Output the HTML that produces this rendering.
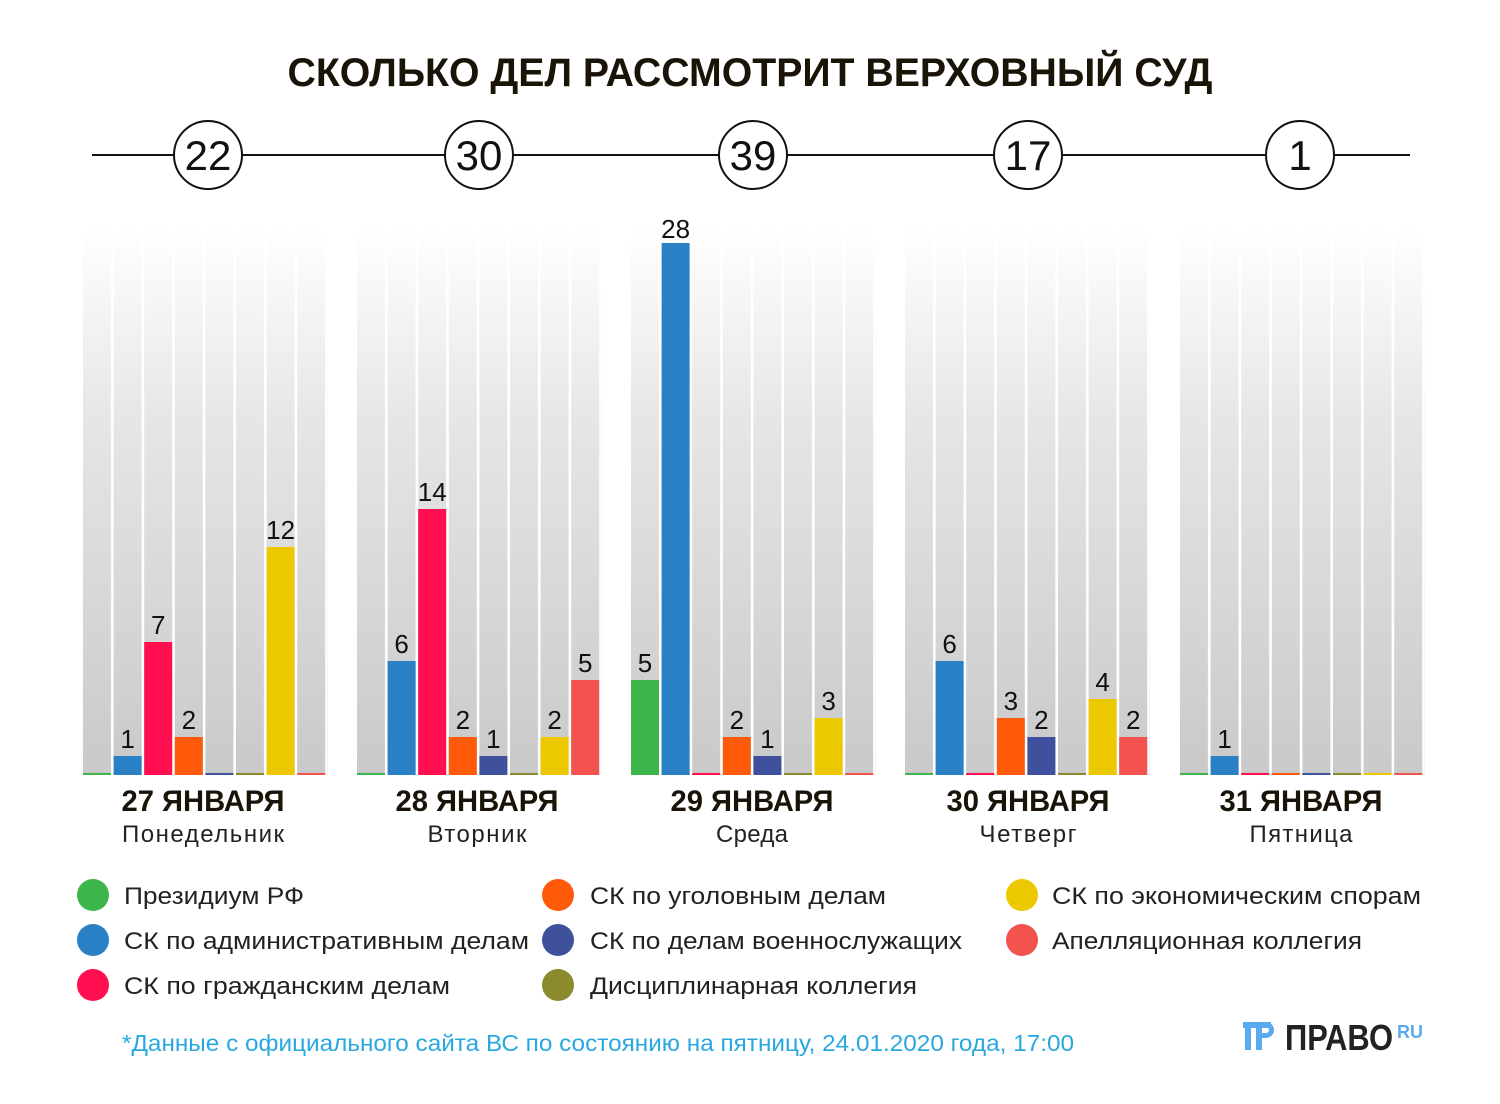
<!DOCTYPE html>
<html><head><meta charset="utf-8"><style>
html,body{margin:0;padding:0;background:#fff;}
svg{display:block;font-family:"Liberation Sans",sans-serif;}
</style></head><body>
<svg width="1500" height="1104" viewBox="0 0 1500 1104" xmlns="http://www.w3.org/2000/svg">
<defs>
<linearGradient id="bg" x1="0" y1="0" x2="0" y2="1">
<stop offset="0" stop-color="#ffffff"/><stop offset="0.35" stop-color="#e6e6e6"/><stop offset="1" stop-color="#c9c9c9"/>
</linearGradient>
<pattern id="sep" x="0" y="0" width="30.6" height="10" patternUnits="userSpaceOnUse">
<rect x="28" y="0" width="2.6" height="10" fill="#fff"/>
</pattern>
</defs>
<text x="750" y="86" text-anchor="middle" font-size="40" font-weight="bold" fill="#1a1408" textLength="925" lengthAdjust="spacingAndGlyphs">СКОЛЬКО ДЕЛ РАССМОТРИТ ВЕРХОВНЫЙ СУД</text>
<line x1="92" y1="155" x2="1410" y2="155" stroke="#111" stroke-width="2"/>
<g fill="#fff" stroke="#111" stroke-width="2">
<circle cx="208" cy="155" r="34"/><circle cx="479" cy="155" r="34"/><circle cx="753" cy="155" r="34"/><circle cx="1028" cy="155" r="34"/><circle cx="1300" cy="155" r="34"/>
</g>
<g font-size="42" text-anchor="middle" fill="#111">
<text x="208" y="170">22</text><text x="479" y="170">30</text><text x="753" y="170">39</text><text x="1028" y="170">17</text><text x="1300" y="170">1</text>
</g>

<g>
<rect x="83" y="228" width="245" height="547" fill="url(#bg)"/>
<rect x="357" y="228" width="245" height="547" fill="url(#bg)"/>
<rect x="631" y="228" width="245" height="547" fill="url(#bg)"/>
<rect x="905" y="228" width="245" height="547" fill="url(#bg)"/>
<rect x="1180" y="228" width="245" height="547" fill="url(#bg)"/>
</g>
<g>
<g transform="translate(83,0)"><rect x="0" y="228" width="245" height="547" fill="url(#sep)"/></g>
<g transform="translate(357,0)"><rect x="0" y="228" width="245" height="547" fill="url(#sep)"/></g>
<g transform="translate(631,0)"><rect x="0" y="228" width="245" height="547" fill="url(#sep)"/></g>
<g transform="translate(905,0)"><rect x="0" y="228" width="245" height="547" fill="url(#sep)"/></g>
<g transform="translate(1180,0)"><rect x="0" y="228" width="245" height="547" fill="url(#sep)"/></g>
</g>

<g font-size="26" text-anchor="middle" fill="#111">
<g transform="translate(83,0)">
<rect x="0" y="773" width="28" height="2" fill="#3cb54a"/>
<rect x="30.6" y="756" width="28" height="19" fill="#2a80c4"/><text x="44.6" y="748">1</text>
<rect x="61.2" y="642" width="28" height="133" fill="#ff0f4f"/><text x="75.2" y="634">7</text>
<rect x="91.8" y="737" width="28" height="38" fill="#ff5a0a"/><text x="105.8" y="729">2</text>
<rect x="122.4" y="773" width="28" height="2" fill="#3f519c"/>
<rect x="153" y="773" width="28" height="2" fill="#8b8a2c"/>
<rect x="183.6" y="547" width="28" height="228" fill="#ecc800"/><text x="197.6" y="539">12</text>
<rect x="214.2" y="773" width="28" height="2" fill="#f2534f"/>
</g>
<g transform="translate(357,0)">
<rect x="0" y="773" width="28" height="2" fill="#3cb54a"/>
<rect x="30.6" y="661" width="28" height="114" fill="#2a80c4"/><text x="44.6" y="653">6</text>
<rect x="61.2" y="509" width="28" height="266" fill="#ff0f4f"/><text x="75.2" y="501">14</text>
<rect x="91.8" y="737" width="28" height="38" fill="#ff5a0a"/><text x="105.8" y="729">2</text>
<rect x="122.4" y="756" width="28" height="19" fill="#3f519c"/><text x="136.4" y="748">1</text>
<rect x="153" y="773" width="28" height="2" fill="#8b8a2c"/>
<rect x="183.6" y="737" width="28" height="38" fill="#ecc800"/><text x="197.6" y="729">2</text>
<rect x="214.2" y="680" width="28" height="95" fill="#f2534f"/><text x="228.2" y="672">5</text>
</g>
<g transform="translate(631,0)">
<rect x="0" y="680" width="28" height="95" fill="#3cb54a"/><text x="14" y="672">5</text>
<rect x="30.6" y="243" width="28" height="532" fill="#2a80c4"/><text x="44.6" y="238">28</text>
<rect x="61.2" y="773" width="28" height="2" fill="#ff0f4f"/>
<rect x="91.8" y="737" width="28" height="38" fill="#ff5a0a"/><text x="105.8" y="729">2</text>
<rect x="122.4" y="756" width="28" height="19" fill="#3f519c"/><text x="136.4" y="748">1</text>
<rect x="153" y="773" width="28" height="2" fill="#8b8a2c"/>
<rect x="183.6" y="718" width="28" height="57" fill="#ecc800"/><text x="197.6" y="710">3</text>
<rect x="214.2" y="773" width="28" height="2" fill="#f2534f"/>
</g>
<g transform="translate(905,0)">
<rect x="0" y="773" width="28" height="2" fill="#3cb54a"/>
<rect x="30.6" y="661" width="28" height="114" fill="#2a80c4"/><text x="44.6" y="653">6</text>
<rect x="61.2" y="773" width="28" height="2" fill="#ff0f4f"/>
<rect x="91.8" y="718" width="28" height="57" fill="#ff5a0a"/><text x="105.8" y="710">3</text>
<rect x="122.4" y="737" width="28" height="38" fill="#3f519c"/><text x="136.4" y="729">2</text>
<rect x="153" y="773" width="28" height="2" fill="#8b8a2c"/>
<rect x="183.6" y="699" width="28" height="76" fill="#ecc800"/><text x="197.6" y="691">4</text>
<rect x="214.2" y="737" width="28" height="38" fill="#f2534f"/><text x="228.2" y="729">2</text>
</g>
<g transform="translate(1180,0)">
<rect x="0" y="773" width="28" height="2" fill="#3cb54a"/>
<rect x="30.6" y="756" width="28" height="19" fill="#2a80c4"/><text x="44.6" y="748">1</text>
<rect x="61.2" y="773" width="28" height="2" fill="#ff0f4f"/>
<rect x="91.8" y="773" width="28" height="2" fill="#ff5a0a"/>
<rect x="122.4" y="773" width="28" height="2" fill="#3f519c"/>
<rect x="153" y="773" width="28" height="2" fill="#8b8a2c"/>
<rect x="183.6" y="773" width="28" height="2" fill="#ecc800"/>
<rect x="214.2" y="773" width="28" height="2" fill="#f2534f"/>
</g>
</g>

<g text-anchor="middle" fill="#1a1408">
<g font-size="30" font-weight="bold">
<text x="203" y="811" textLength="163" lengthAdjust="spacingAndGlyphs">27 ЯНВАРЯ</text><text x="477" y="811" textLength="163" lengthAdjust="spacingAndGlyphs">28 ЯНВАРЯ</text><text x="752" y="811" textLength="163" lengthAdjust="spacingAndGlyphs">29 ЯНВАРЯ</text><text x="1028" y="811" textLength="163" lengthAdjust="spacingAndGlyphs">30 ЯНВАРЯ</text><text x="1301" y="811" textLength="163" lengthAdjust="spacingAndGlyphs">31 ЯНВАРЯ</text>
</g>
<g font-size="24" fill="#222" lengthAdjust="spacingAndGlyphs">
<text x="203" y="842" textLength="162">Понедельник</text><text x="477" y="842" textLength="99">Вторник</text><text x="752" y="842" textLength="72">Среда</text><text x="1028" y="842" textLength="97">Четверг</text><text x="1301" y="842" textLength="103">Пятница</text>
</g>
</g>

<g>
<circle cx="93" cy="895" r="16" fill="#3cb54a"/><circle cx="93" cy="940" r="16" fill="#2a80c4"/><circle cx="93" cy="985" r="16" fill="#ff0f4f"/>
<circle cx="558" cy="895" r="16" fill="#ff5a0a"/><circle cx="558" cy="940" r="16" fill="#3f519c"/><circle cx="558" cy="985" r="16" fill="#8b8a2c"/>
<circle cx="1022" cy="895" r="16" fill="#ecc800"/><circle cx="1022" cy="940" r="16" fill="#f2534f"/>
</g>
<g font-size="24" fill="#222">
<text x="124" y="904" textLength="180" lengthAdjust="spacingAndGlyphs">Президиум РФ</text>
<text x="124" y="949" textLength="405" lengthAdjust="spacingAndGlyphs">СК по административным делам</text>
<text x="124" y="994" textLength="326" lengthAdjust="spacingAndGlyphs">СК по гражданским делам</text>
<text x="590" y="904" textLength="296" lengthAdjust="spacingAndGlyphs">СК по уголовным делам</text>
<text x="590" y="949" textLength="372" lengthAdjust="spacingAndGlyphs">СК по делам военнослужащих</text>
<text x="590" y="994" textLength="327" lengthAdjust="spacingAndGlyphs">Дисциплинарная коллегия</text>
<text x="1052" y="904" textLength="369" lengthAdjust="spacingAndGlyphs">СК по экономическим спорам</text>
<text x="1052" y="949" textLength="310" lengthAdjust="spacingAndGlyphs">Апелляционная коллегия</text>
</g>
<text x="122" y="1051" font-size="23" fill="#29a8e0" textLength="952" lengthAdjust="spacingAndGlyphs">*Данные с официального сайта ВС по состоянию на пятницу, 24.01.2020 года, 17:00</text>

<g>
<rect x="1243" y="1022" width="28" height="6" fill="#5aaaf0"/>
<rect x="1245" y="1022" width="6" height="28" fill="#5aaaf0"/>
<rect x="1256" y="1022" width="6" height="28" fill="#5aaaf0"/>
<path d="M1262 1022 h4 a8 8 0 0 1 0 16 h-4 v-5 h4 a3 3 0 0 0 0 -6 h-4z" fill="#5aaaf0"/>
<text x="1285" y="1050" font-size="36" font-weight="bold" fill="#222" textLength="108" lengthAdjust="spacingAndGlyphs">ПРАВО</text>
<text x="1397" y="1038" font-size="18" font-weight="bold" fill="#5aaaf0">RU</text>
</g>
</svg>
</body></html>
